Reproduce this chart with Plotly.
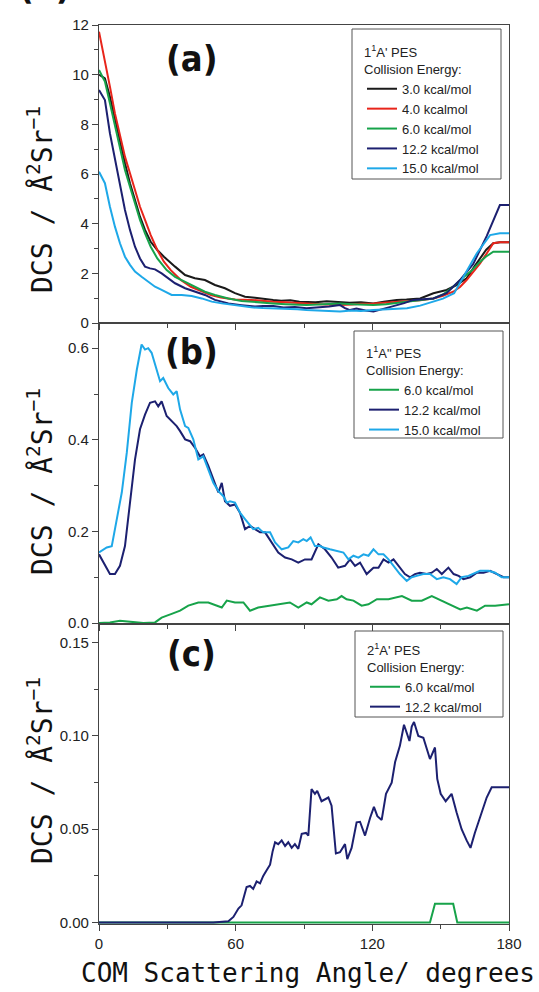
import plotly.graph_objects as go

# ---------------- Panel (a): 1^1A' PES ----------------
a_e30_x = [0, 2.6, 4.8, 7.0, 9.2, 11.4, 13.6, 15.8, 18.0, 20.2, 22.7, 25.6, 28.5, 33.4, 37.8, 42.1, 46.5,
           50.9, 55.3, 59.7, 64.1, 68.5, 72, 76.5, 80, 84, 88, 91.1, 95, 100, 105.8, 110, 115, 120.5, 125,
           130.7, 135, 141, 146.8, 152.6, 157, 161.4, 165, 167.3, 170, 173.1, 176, 180]
a_e30_y = [10.0, 9.85, 9.11, 8.18, 7.24, 6.43, 5.63, 4.95, 4.28, 3.75, 3.27, 2.94, 2.67, 2.27, 1.93, 1.80,
           1.73, 1.53, 1.40, 1.20, 1.06, 1.02, 0.97, 0.93, 0.90, 0.92, 0.86, 0.86, 0.84, 0.88, 0.86, 0.82,
           0.84, 0.79, 0.86, 0.93, 0.95, 0.99, 1.20, 1.33, 1.53, 1.80, 2.30, 2.60, 2.95, 3.21, 3.25, 3.25]

a_e40_x = [0, 2.6, 4.8, 7.0, 9.2, 11.4, 13.6, 15.8, 18.0, 20.2, 22.7, 25.6, 28.5, 31.5, 35.9, 40.3, 44.7,
           49.1, 53.5, 59.7, 66.8, 72, 76.5, 82, 87, 91.1, 97, 101, 105.8, 111, 115, 120.5, 126, 130, 135.2,
           141, 146.8, 151, 155.5, 158.5, 161.4, 164.3, 167.3, 170.2, 173.1, 176, 180]
a_e40_y = [11.73, 10.59, 9.52, 8.44, 7.50, 6.70, 6.03, 5.36, 4.68, 4.15, 3.54, 2.94, 2.47, 2.13, 1.73, 1.46,
           1.30, 1.13, 1.03, 0.95, 0.93, 0.88, 0.86, 0.84, 0.80, 0.79, 0.76, 0.74, 0.72, 0.75, 0.78, 0.79,
           0.82, 0.84, 0.86, 0.92, 0.99, 1.10, 1.26, 1.45, 1.73, 2.05, 2.40, 2.80, 3.21, 3.25, 3.25]

a_e60_x = [0, 2.6, 4.8, 7.0, 9.2, 11.4, 13.6, 15.8, 18.0, 20.2, 22.7, 25.6, 29.7, 33.4, 37.8, 42.1, 46.5,
           50.9, 56.8, 62.6, 68.5, 73, 76.5, 82, 87, 91.1, 96, 101, 105.8, 111, 115, 120.5, 126, 130, 135.2,
           141, 146.8, 151, 155.5, 159.5, 163.9, 166.8, 169.8, 173.1, 176, 180]
a_e60_y = [10.19, 9.72, 8.85, 7.91, 6.97, 6.16, 5.49, 4.82, 4.15, 3.61, 3.07, 2.60, 2.13, 1.86, 1.66, 1.46,
           1.26, 1.13, 0.99, 0.89, 0.86, 0.82, 0.79, 0.76, 0.74, 0.72, 0.74, 0.77, 0.79, 0.76, 0.74, 0.72,
           0.76, 0.80, 0.86, 0.92, 0.99, 1.15, 1.46, 1.80, 2.13, 2.42, 2.67, 2.87, 2.87, 2.87]

a_e122_x = [0, 2.6, 4.8, 7.0, 9.2, 11.4, 13.6, 15.8, 18.0, 20.2, 22.4, 24.6, 27.5, 30.4, 33.4, 37.8, 42.1,
            46.5, 50.9, 56.8, 62.6, 68.5, 72, 76.5, 81, 86, 91.1, 96, 101, 105.8, 108, 110.2, 113, 117,
            120.5, 124, 127, 130.7, 134, 138, 142, 146.8, 152.6, 158.5, 164.3, 170.2, 176, 180]
a_e122_y = [9.38, 8.98, 7.64, 6.56, 5.49, 4.55, 3.75, 3.07, 2.60, 2.27, 2.20, 2.16, 2.00, 1.80, 1.60, 1.40,
            1.26, 1.13, 0.93, 0.79, 0.72, 0.66, 0.68, 0.68, 0.62, 0.64, 0.59, 0.62, 0.66, 0.72, 0.60, 0.52,
            0.58, 0.50, 0.46, 0.55, 0.62, 0.72, 0.80, 0.93, 0.95, 0.99, 1.20, 1.73, 2.38, 3.50, 4.75, 4.75]

a_e150_x = [0, 2.6, 4.8, 7.0, 9.2, 11.4, 13.6, 15.8, 18.7, 21.6, 24.6, 27.5, 31.9, 36.3, 40.7, 45.1, 49.5,
            53.9, 59.7, 66.8, 72, 76.5, 82, 87, 91.1, 96, 101, 105.8, 111, 115, 120.5, 126, 130, 135.2,
            141, 146.8, 151, 155.9, 160, 165.9, 171.7, 176, 180]
a_e150_y = [6.09, 5.63, 4.68, 3.88, 3.21, 2.67, 2.34, 2.07, 1.86, 1.66, 1.46, 1.33, 1.13, 1.13, 1.09, 0.99,
            0.86, 0.79, 0.72, 0.63, 0.60, 0.59, 0.56, 0.55, 0.52, 0.50, 0.48, 0.46, 0.50, 0.48, 0.52, 0.55,
            0.57, 0.59, 0.70, 0.86, 0.98, 1.20, 1.86, 2.81, 3.54, 3.61, 3.61]

# ---------------- Panel (b): 1^1A'' PES ----------------
b_e60_x = [0, 4.8, 9.2, 15.1, 19.5, 24.6, 27.5, 31.9, 35.6, 39.2, 43.6, 48.0, 51.5, 53.9, 56.1, 59.7, 63.4,
           66.3, 69.9, 75.1, 79.5, 83.8, 87.5, 91.2, 93.3, 97.0, 100.7, 104.4, 106.5, 108.7, 111.7, 115.3,
           118.3, 122.0, 127.1, 133.0, 137.3, 141.7, 146.1, 150.5, 154.9, 158.6, 161.5, 165.9, 169.5,
           173.9, 180]
b_e60_y = [0.0, 0.0015, 0.005, 0.0015, 0.0, 0.0015, 0.012, 0.020, 0.027, 0.038, 0.045, 0.045, 0.038, 0.034,
           0.049, 0.045, 0.045, 0.027, 0.034, 0.038, 0.041, 0.045, 0.034, 0.045, 0.041, 0.056, 0.049, 0.052,
           0.059, 0.052, 0.049, 0.038, 0.041, 0.052, 0.052, 0.059, 0.049, 0.049, 0.059, 0.049, 0.038, 0.030,
           0.034, 0.027, 0.038, 0.038, 0.041]

b_e122_x = [0, 2.6, 4.8, 7.0, 9.2, 11.4, 13.6, 15.8, 18.0, 20.2, 22.4, 24.6, 26.0, 27.5, 29.7, 31.9, 34.1,
            35.6, 37.8, 40.0, 42.1, 44.3, 45.8, 48.0, 50.2, 52.4, 53.9, 55.3, 57.5, 59.7, 61.9, 64.1, 66.3,
            68.5, 70.7, 72.9, 75.8, 78.7, 81.7, 84.6, 87.5, 90.4, 93.3, 96.3, 99.2, 102.1, 105.0, 108.0,
            110.2, 112.4, 114.6, 117.5, 120.5, 122.7, 124.9, 127.1, 129.3, 131.5, 134.3, 136.6, 138.7,
            140.9, 143.9, 146.1, 148.3, 150.5, 153.4, 155.7, 157.9, 160.0, 163.0, 165.9, 168.8, 171.7,
            174.7, 177.6, 180]
b_e122_y = [0.150, 0.125, 0.107, 0.107, 0.125, 0.168, 0.263, 0.357, 0.423, 0.455, 0.481, 0.484, 0.473,
            0.484, 0.452, 0.441, 0.430, 0.419, 0.401, 0.397, 0.383, 0.364, 0.368, 0.343, 0.314, 0.285,
            0.306, 0.266, 0.256, 0.259, 0.241, 0.205, 0.212, 0.205, 0.198, 0.198, 0.176, 0.154, 0.143,
            0.139, 0.132, 0.139, 0.139, 0.172, 0.161, 0.143, 0.121, 0.125, 0.139, 0.125, 0.132, 0.107,
            0.121, 0.121, 0.139, 0.132, 0.139, 0.125, 0.107, 0.100, 0.107, 0.110, 0.107, 0.110, 0.118,
            0.107, 0.121, 0.107, 0.103, 0.096, 0.100, 0.110, 0.110, 0.114, 0.107, 0.100, 0.100]

b_e150_x = [0, 3.4, 5.6, 7.8, 10.0, 12.2, 14.4, 16.6, 18.7, 20.2, 21.6, 23.1, 24.6, 26.8, 28.2, 30.4, 32.6,
            34.1, 35.6, 37.8, 39.2, 41.4, 43.6, 45.8, 48.0, 50.2, 52.4, 54.6, 56.1, 57.5, 59.7, 61.9, 64.1,
            66.3, 67.7, 69.9, 72.1, 75.1, 77.3, 80.2, 83.1, 85.3, 87.5, 89.7, 91.2, 92.9, 94.8, 97.0, 98.5,
            101.4, 104.4, 107.3, 109.5, 111.7, 113.9, 116.1, 118.3, 120.5, 122.7, 124.9, 127.1, 129.3,
            132.1, 135.1, 137.3, 139.5, 142.4, 145.3, 148.3, 151.2, 154.1, 157.0, 159.2, 162.2, 164.4,
            167.3, 171.0, 173.9, 176.8, 180]
b_e150_y = [0.154, 0.165, 0.168, 0.227, 0.285, 0.372, 0.481, 0.553, 0.608, 0.597, 0.600, 0.590, 0.564,
            0.528, 0.535, 0.513, 0.499, 0.506, 0.466, 0.430, 0.426, 0.401, 0.357, 0.364, 0.335, 0.306,
            0.288, 0.277, 0.263, 0.266, 0.263, 0.241, 0.227, 0.212, 0.205, 0.208, 0.198, 0.198, 0.176,
            0.161, 0.165, 0.179, 0.176, 0.183, 0.179, 0.187, 0.168, 0.168, 0.165, 0.161, 0.158, 0.154,
            0.139, 0.147, 0.143, 0.150, 0.147, 0.161, 0.150, 0.150, 0.139, 0.125, 0.107, 0.092, 0.100,
            0.103, 0.107, 0.107, 0.096, 0.100, 0.096, 0.085, 0.100, 0.103, 0.107, 0.114, 0.114, 0.110,
            0.100, 0.100]

# ---------------- Panel (c): 2^1A' PES ----------------
c_e60_x = [0, 145.3, 147.5, 155.5, 157.3, 180]
c_e60_y = [0.0, 0.0, 0.010, 0.010, 0.0, 0.0]

c_e122_x = [0, 50.2, 56.8, 59.0, 61.2, 62.6, 64.8, 66.3, 67.7, 69.2, 70.7, 72.1, 73.6, 75.1, 76.2, 77.3,
            78.7, 80.2, 81.7, 83.1, 84.6, 86.0, 87.5, 89.0, 90.9, 91.9, 93.3, 94.8, 95.8, 97.7, 100.7,
            102.1, 104.0, 105.8, 108.0, 109.0, 110.9, 113.1, 114.6, 116.8, 119.0, 120.7, 122.2, 124.1,
            126.0, 128.5, 130.0, 132.1, 133.9, 136.3, 137.3, 138.3, 140.2, 142.4, 145.3, 147.5, 148.5,
            150.0, 152.2, 154.8, 157.0, 159.2, 161.4, 163.1, 165.0, 168.0, 170.2, 172.4, 180]
c_e122_y = [0.0, 0.0, 0.0007, 0.003, 0.0075, 0.0092, 0.019, 0.0196, 0.018, 0.022, 0.021, 0.025, 0.028,
            0.031, 0.038, 0.043, 0.042, 0.044, 0.041, 0.043, 0.040, 0.042, 0.0395, 0.0475, 0.048, 0.0466,
            0.0715, 0.069, 0.0706, 0.065, 0.067, 0.0626, 0.037, 0.0377, 0.042, 0.034, 0.040, 0.0537,
            0.054, 0.0466, 0.056, 0.062, 0.057, 0.055, 0.069, 0.075, 0.086, 0.0947, 0.106, 0.0973, 0.105,
            0.1075, 0.100, 0.099, 0.0876, 0.0938, 0.077, 0.069, 0.065, 0.069, 0.059, 0.050, 0.044, 0.040,
            0.048, 0.059, 0.067, 0.0725, 0.0725]

energy_labels_a = ["3.0 kcal/mol", "4.0 kcalmol", "6.0 kcal/mol", "12.2 kcal/mol", "15.0 kcal/mol"]
energy_labels_b = ["6.0 kcal/mol", "12.2 kcal/mol", "15.0 kcal/mol"]
energy_labels_c = ["6.0 kcal/mol", "12.2 kcal/mol"]

BLACK = "#1a1a1a"
RED = "#e8251b"
GREEN = "#17a34a"
NAVY = "#1c2070"
LBLUE = "#1ea8e8"

LW = 2.0
TICK_FONT = dict(family="Liberation Sans, Arial, sans-serif", size=15, color="#222")
LEG_FONT = dict(family="Liberation Sans, Arial, sans-serif", size=13, color="#222")
AXC = "#444"

fig = go.Figure()

panel_a = [(a_e30_x, a_e30_y, BLACK), (a_e40_x, a_e40_y, RED), (a_e60_x, a_e60_y, GREEN),
           (a_e122_x, a_e122_y, NAVY), (a_e150_x, a_e150_y, LBLUE)]
for (xs, ys, col), name in zip(panel_a, energy_labels_a):
    fig.add_trace(go.Scatter(x=xs, y=ys, mode="lines", name=name, line=dict(color=col, width=LW),
                             xaxis="x", yaxis="y", legend="legend"))

panel_b = [(b_e60_x, b_e60_y, GREEN), (b_e122_x, b_e122_y, NAVY), (b_e150_x, b_e150_y, LBLUE)]
for (xs, ys, col), name in zip(panel_b, energy_labels_b):
    fig.add_trace(go.Scatter(x=xs, y=ys, mode="lines", name=name, line=dict(color=col, width=LW),
                             xaxis="x2", yaxis="y2", legend="legend2"))

panel_c = [(c_e60_x, c_e60_y, GREEN), (c_e122_x, c_e122_y, NAVY)]
for (xs, ys, col), name in zip(panel_c, energy_labels_c):
    fig.add_trace(go.Scatter(x=xs, y=ys, mode="lines", name=name, line=dict(color=col, width=LW),
                             xaxis="x3", yaxis="y3", legend="legend3"))

# plot area: x 99..509 px, y 25..924 px
L, R, T, B = 99, 30, 25, 68
PW, PH = 539 - L - R, 992 - T - B


def px(xp):
    return (xp - L) / PW


def py(yp):
    return (992 - B - yp) / PH


def xaxis_cfg(anchor, labels):
    return dict(anchor=anchor, domain=[0, 1], range=[0, 180], dtick=60, tick0=0,
                showticklabels=labels, ticks="outside", ticklen=6, tickwidth=1, tickcolor=AXC,
                minor=dict(dtick=30, tick0=0, ticks="outside", ticklen=4, tickcolor=AXC),
                showline=True, linecolor=AXC, linewidth=1.2, mirror=True, showgrid=False,
                zeroline=False, tickfont=TICK_FONT)


def yaxis_cfg(anchor, dom, rng, dtick, minor, fmt):
    return dict(anchor=anchor, domain=dom, range=rng, dtick=dtick, tick0=0, tickformat=fmt,
                ticks="outside", ticklen=6, tickwidth=1, tickcolor=AXC,
                minor=dict(dtick=minor, tick0=0, ticks="outside", ticklen=4, tickcolor=AXC),
                showline=True, linecolor=AXC, linewidth=1.2, mirror=True, showgrid=False,
                zeroline=False, tickfont=TICK_FONT)


d_c = py(624)
d_b = py(323)

title_font = dict(family="DejaVu Sans Mono, Liberation Mono, monospace", size=28, color="#111")
label_font = dict(family="Liberation Sans Narrow, DejaVu Sans Condensed, Liberation Sans, sans-serif",
                  size=36, color="#111")
ytitle = "DCS / Å<sup>2</sup>Sr<sup>−1</sup>"

annotations = [
    dict(text="<b>(a)</b>", x=px(191), y=py(59), font=label_font),
    dict(text="<b>(b)</b>", x=px(191), y=py(352), font=label_font),
    dict(text="<b>(c)</b>", x=px(191), y=py(654), font=label_font),
    dict(text="<b>(a)</b>", x=px(44), y=py(-13), font=label_font),
    dict(text=ytitle, x=px(40), y=py(200), textangle=-90, font=title_font),
    dict(text=ytitle, x=px(40), y=py(482), textangle=-90, font=title_font),
    dict(text=ytitle, x=px(40), y=py(771), textangle=-90, font=title_font),
    dict(text="COM Scattering Angle/ degrees", x=px(308), y=py(973),
         font=dict(family="DejaVu Sans Mono, Liberation Mono, monospace", size=26, color="#111")),
]
for a in annotations:
    a.update(xref="paper", yref="paper", showarrow=False, xanchor="center", yanchor="middle")


def box(x0, y0, x1, y1):
    return dict(type="rect", xref="paper", yref="paper", x0=px(x0), x1=px(x1), y0=py(y1), y1=py(y0),
                line=dict(color="#555", width=1), fillcolor="rgba(0,0,0,0)", layer="above")


shapes = [box(352, 29, 501, 179), box(354, 331, 503, 438), box(355, 631, 503, 717)]


def legend_cfg(x0, y0, title):
    return dict(x=px(x0), y=py(y0), xanchor="left", yanchor="top", bgcolor="rgba(0,0,0,0)",
                borderwidth=0, font=LEG_FONT, title=dict(text=title, font=LEG_FONT),
                tracegroupgap=0, itemwidth=30)


fig.update_layout(
    width=539, height=992,
    margin=dict(l=L, r=R, t=T, b=B),
    paper_bgcolor="white", plot_bgcolor="white",
    xaxis=xaxis_cfg("y", False),
    xaxis2=xaxis_cfg("y2", False),
    xaxis3=xaxis_cfg("y3", True),
    yaxis=yaxis_cfg("x", [d_b, 1], [0, 12], 2, 1, "d"),
    yaxis2=yaxis_cfg("x2", [d_c, d_b], [-0.002, 0.655], 0.2, 0.1, ".1f"),
    yaxis3=yaxis_cfg("x3", [0, d_c], [-0.0008, 0.16], 0.05, 0.025, ".2f"),
    legend=legend_cfg(362, 40, "1<sup>1</sup>A' PES<br>Collision Energy:"),
    legend2=legend_cfg(364, 341, "1<sup>1</sup>A\" PES<br>Collision Energy:"),
    legend3=legend_cfg(365, 638, "2<sup>1</sup>A' PES<br>Collision Energy:"),
    annotations=annotations,
    shapes=shapes,
    showlegend=True,
)

fig.write_html("out.html")
